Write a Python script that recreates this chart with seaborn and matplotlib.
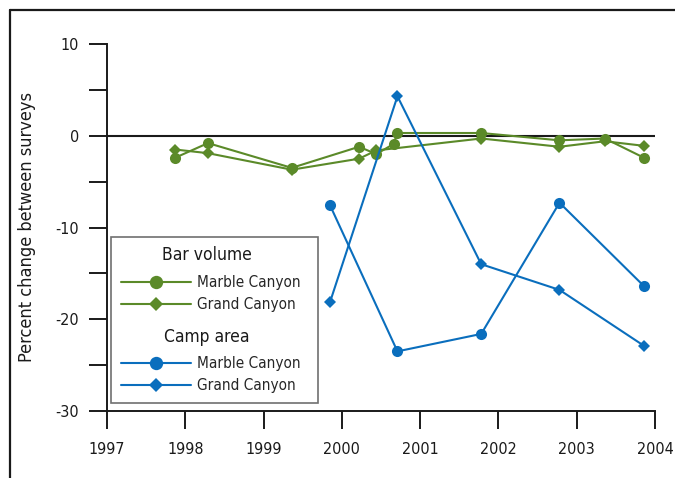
import matplotlib
matplotlib.use("Agg")
import matplotlib.pyplot as plt
from matplotlib.lines import Line2D
from matplotlib.patches import Rectangle
from matplotlib.ticker import MultipleLocator
import seaborn as sns
import pandas as pd

# Survey dates (decimal years) and percent change between surveys
bar_mc_x = [1997.87, 1998.29, 1999.36, 2000.22, 2000.44, 2000.66, 2000.71, 2001.78, 2002.78, 2003.36, 2003.86]
bar_mc_y = [-2.4, -0.8, -3.5, -1.2, -2.0, -0.9, 0.3, 0.3, -0.5, -0.3, -2.4]
bar_gc_x = [1997.87, 1998.29, 1999.36, 2000.22, 2000.44, 2001.78, 2002.78, 2003.36, 2003.86]
bar_gc_y = [-1.5, -1.9, -3.7, -2.5, -1.6, -0.3, -1.2, -0.6, -1.1]
camp_mc_x = [1999.85, 2000.71, 2001.78, 2002.78, 2003.86]
camp_mc_y = [-7.6, -23.5, -21.6, -7.3, -16.4]
camp_gc_x = [1999.85, 2000.71, 2001.78, 2002.78, 2003.86]
camp_gc_y = [-18.1, 4.3, -14.0, -16.8, -22.9]

year_ticks = [1997, 1998, 1999, 2000, 2001, 2002, 2003, 2004]
pct_ticks = [-30, -20, -10, 0, 10]

GREEN = "#5b8a29"
BLUE = "#0a6ebd"
INK = "#1a1a1a"

sns.set_style("ticks")
plt.rcParams["font.family"] = ["DejaVu Sans"]
plt.rcParams["font.stretch"] = "condensed"
plt.rcParams["axes.unicode_minus"] = False

W, H = 675, 478
fig = plt.figure(figsize=(W / 100, H / 100), dpi=100)
ax = fig.add_axes([107 / W, 1 - 411 / H, (655 - 107) / W, (411 - 44) / H])


def series(x, y, color, marker, ms, label):
    df = pd.DataFrame({"year": x, "pct": y})
    sns.lineplot(data=df, x="year", y="pct", ax=ax, color=color, marker=marker,
                 markersize=ms, markeredgewidth=0, linewidth=1.5,
                 sort=False, estimator=None, label=label, legend=False)


series(bar_mc_x, bar_mc_y, GREEN, "o", 8, "Marble Canyon")
series(bar_gc_x, bar_gc_y, GREEN, "D", 6.3, "Grand Canyon")
series(camp_mc_x, camp_mc_y, BLUE, "o", 8, "Marble Canyon")
series(camp_gc_x, camp_gc_y, BLUE, "D", 6.3, "Grand Canyon")

ax.axhline(0, color=INK, linewidth=1.5, zorder=1)

ax.set_xlim(1997, 2004)
ax.set_ylim(-30, 10)
ax.set_xticks(year_ticks)
ax.set_xticklabels([str(t) for t in year_ticks])
ax.set_yticks(pct_ticks)
ax.set_yticklabels([str(t) for t in pct_ticks])
ax.yaxis.set_minor_locator(MultipleLocator(5))
ax.set_xlabel("")
ax.set_ylabel("Percent change between surveys", fontsize=13, labelpad=14, color=INK)

for side in ("top", "right"):
    ax.spines[side].set_visible(False)
for side in ("left", "bottom"):
    ax.spines[side].set_linewidth(1.4)
    ax.spines[side].set_color(INK)
ax.tick_params(axis="both", which="both", direction="out", length=13, width=1.4,
               color=INK, labelsize=11.5, labelcolor=INK)
ax.tick_params(axis="y", pad=7)
ax.tick_params(axis="x", pad=9)

# Grouped legend: one block per measurement type, inside a single frame
ax.add_patch(Rectangle((111 / W, 1 - 403 / H), (318 - 111) / W, (403 - 237) / H,
                       transform=fig.transFigure, facecolor="white",
                       edgecolor="#707070", linewidth=1.2, zorder=4, clip_on=False))
lines = ax.get_lines()
leg_kw = dict(frameon=False, fontsize=11, handlelength=4.6, handletextpad=0.4,
              labelspacing=0.48, borderpad=0, borderaxespad=0, markerscale=1.2,
              loc="upper left", bbox_transform=fig.transFigure)
leg1 = ax.legend(handles=lines[0:2], labels=["Marble Canyon", "Grand Canyon"],
                 bbox_to_anchor=(121 / W, 1 - 275 / H), **leg_kw)
leg1.set_zorder(6)
ax.add_artist(leg1)
leg2 = ax.legend(handles=lines[2:4], labels=["Marble Canyon", "Grand Canyon"],
                 bbox_to_anchor=(121 / W, 1 - 356 / H), **leg_kw)
leg2.set_zorder(6)
ax.text(207 / W, 1 - 255 / H, "Bar volume", fontsize=12.5, ha="center", va="center",
        color=INK, transform=fig.transFigure, zorder=6)
ax.text(207 / W, 1 - 337 / H, "Camp area", fontsize=12.5, ha="center", va="center",
        color=INK, transform=fig.transFigure, zorder=6)

# Figure frame (top and left edges)
fig.add_artist(Line2D([10 / W, 1], [1 - 10 / H, 1 - 10 / H], transform=fig.transFigure,
                      color=INK, linewidth=1.6))
fig.add_artist(Line2D([10 / W, 10 / W], [0, 1 - 10 / H], transform=fig.transFigure,
                      color=INK, linewidth=1.6))

fig.savefig("out.png", dpi=100)
